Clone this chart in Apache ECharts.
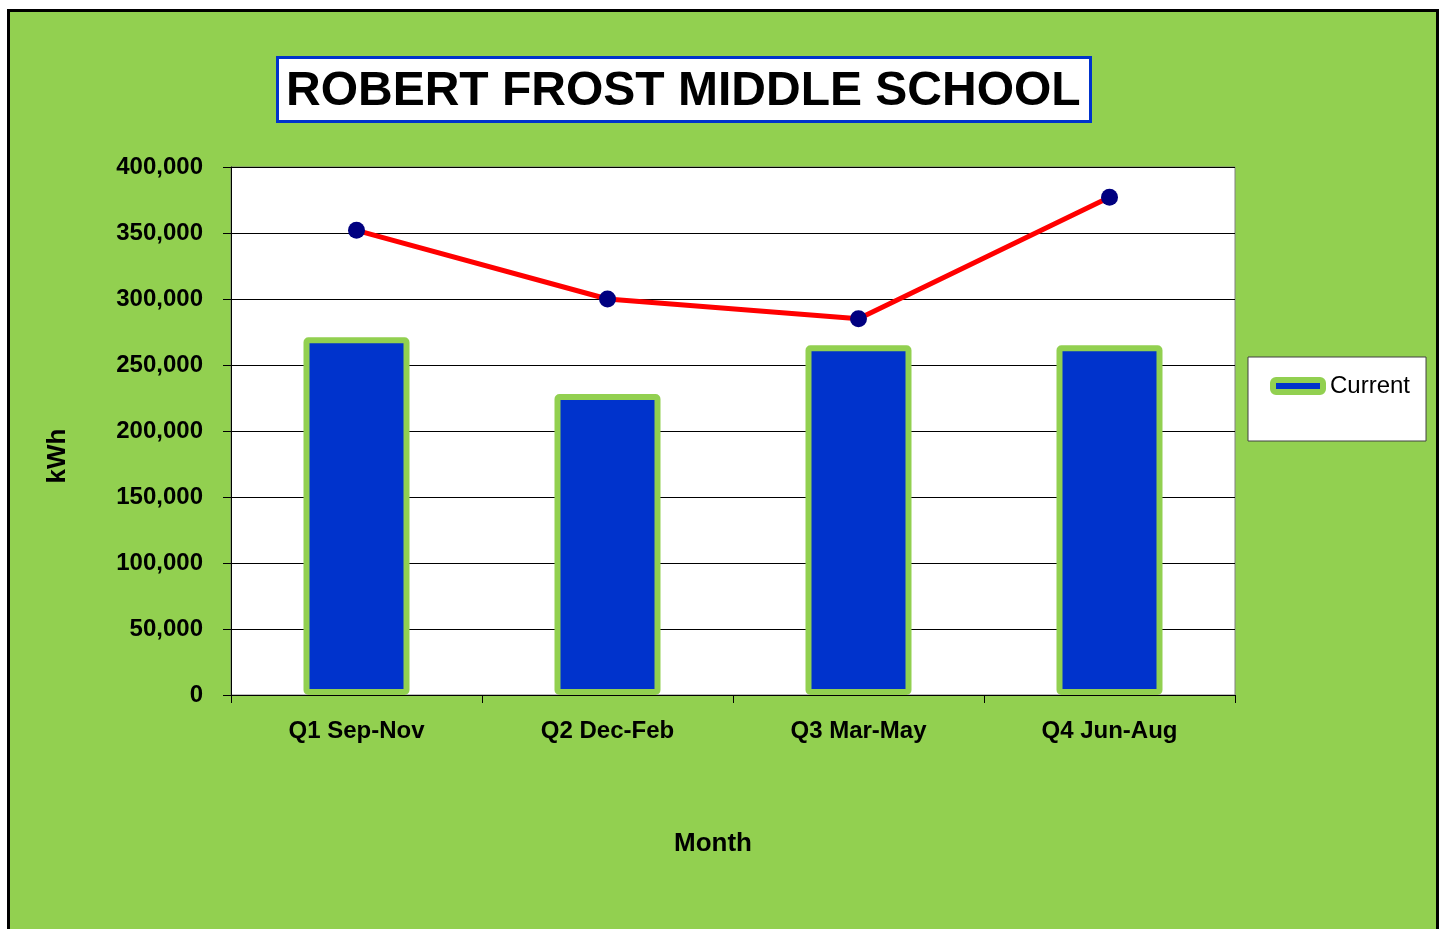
<!DOCTYPE html>
<html>
<head>
<meta charset="utf-8">
<title>Robert Frost Middle School</title>
<script src="https://cdn.jsdelivr.net/npm/echarts@6/dist/echarts.min.js"></script>
<style>
  html, body { margin: 0; padding: 0; background: #ffffff; }
  #chart { width: 1442px; height: 929px; }
</style>
</head>
<body>
<div id="chart"></div>
<script>
const quarters = ["Q1 Sep-Nov", "Q2 Dec-Feb", "Q3 Mar-May", "Q4 Jun-Aug"];
const current = [271000, 228000, 265000, 265000]; // bars (outer edge of bar)
const baseline = [352000, 300000, 285000, 377000]; // red line
const yTicks = [0, 50000, 100000, 150000, 200000, 250000, 300000, 350000, 400000];

const green = "#92D050";
const arial = "'Liberation Sans', Arial, sans-serif";

const myChart = echarts.init(document.getElementById("chart"));
const option = {
  animation: false,
  graphic: [
    {
      type: "rect",
      z: -10,
      shape: { x: 8.5, y: 10.5, width: 1429, height: 940 },
      style: { fill: green, stroke: "#000", lineWidth: 3 }
    }
  ],
  title: {
    text: "ROBERT FROST MIDDLE SCHOOL",
    left: 277,
    top: 57,
    padding: [11, 10, 6, 9],
    backgroundColor: "#fff",
    borderColor: "#0033CC",
    borderWidth: 3,
    textStyle: { fontFamily: arial, fontSize: 48, fontWeight: "bold", color: "#000" }
  },
  legend: {
    data: ["Current"],
    left: 1248,
    top: 357,
    padding: [17, 16, 43, 22],
    backgroundColor: "#fff",
    borderColor: "#404040",
    borderWidth: 1,
    itemWidth: 50,
    itemHeight: 12,
    itemStyle: { borderColor: green, borderWidth: 6 },
    textStyle: { fontFamily: arial, fontSize: 24, color: "#000", padding: [0, 0, 0, 2] }
  },
  grid: {
    left: 231,
    top: 167,
    width: 1004,
    height: 528,
    show: true,
    backgroundColor: "#fff",
    borderColor: "#808080",
    borderWidth: 1,
    containLabel: false
  },
  xAxis: {
    type: "category",
    data: quarters,
    name: "Month",
    nameLocation: "middle",
    nameGap: 136,
    nameTextStyle: {
      fontFamily: arial, fontSize: 26, fontWeight: "bold", color: "#000",
      padding: [0, 40, 0, 0]
    },
    axisLine: { lineStyle: { color: "#000", width: 1 } },
    axisTick: { show: true, length: 8, lineStyle: { color: "#000" } },
    axisLabel: { margin: 24, fontFamily: arial, fontSize: 24, fontWeight: "bold", color: "#000" }
  },
  yAxis: {
    type: "value",
    min: yTicks[0],
    max: yTicks[yTicks.length - 1],
    interval: 50000,
    name: "kWh",
    nameLocation: "middle",
    nameGap: 160,
    nameTextStyle: {
      fontFamily: arial, fontSize: 26, fontWeight: "bold", color: "#000",
      padding: [0, 50, 0, 0]
    },
    axisLine: { show: true, lineStyle: { color: "#000", width: 1 } },
    axisTick: { show: true, length: 8, lineStyle: { color: "#000" } },
    splitLine: { lineStyle: { color: "#000", width: 1 } },
    axisLabel: {
      margin: 28,
      fontFamily: arial,
      fontSize: 24,
      fontWeight: "bold",
      color: "#000",
      formatter: v => v.toLocaleString("en-US")
    }
  },
  series: [
    {
      name: "Current",
      type: "bar",
      data: current,
      barWidth: 106,
      itemStyle: { color: "#0033CC", borderColor: green, borderWidth: 6, borderRadius: 2 }
    },
    {
      name: "Baseline",
      type: "line",
      data: baseline,
      symbol: "circle",
      symbolSize: 17,
      lineStyle: { color: "#FF0000", width: 5 },
      itemStyle: { color: "#000080" },
      z: 5
    }
  ]
};
myChart.setOption(option);
</script>
</body>
</html>
